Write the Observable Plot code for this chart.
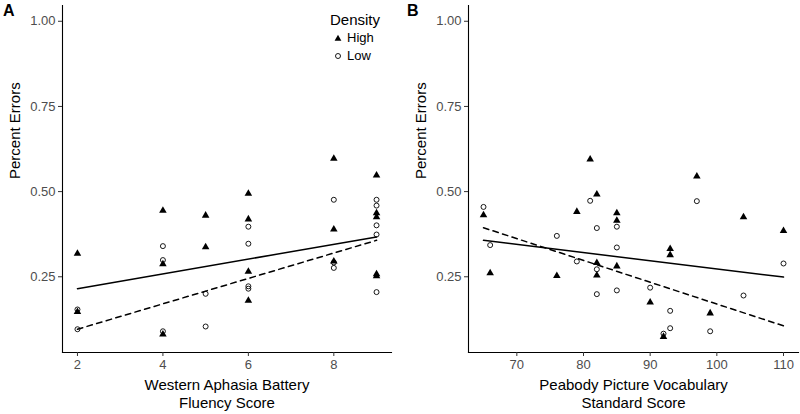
<!DOCTYPE html>
<html>
<head>
<meta charset="utf-8">
<script src="https://cdn.jsdelivr.net/npm/d3@7"></script>
<script src="https://cdn.jsdelivr.net/npm/@observablehq/plot@0.6"></script>
<style>
  html, body { margin: 0; padding: 0; background: #fff; }
  #wrap { position: relative; width: 800px; height: 414px; font-family: "Liberation Sans", Arial, sans-serif; }
  #chart { display: flex; }
  .plab { position: absolute; font-weight: bold; font-size: 16px; color: #000; line-height: 1; }
  #legend { position: absolute; left: 330px; top: 11px; color: #000; }
  #legend .ttl { font-size: 15px; line-height: 18px; }
  #legend .row { display: flex; align-items: center; font-size: 13px; line-height: 18px; }
  #legend svg { margin: 0 5px 0 4px; }
</style>
</head>
<body>
<div id="wrap">
  <div id="chart"></div>
  <div class="plab" style="left:3px;top:3px">A</div>
  <div class="plab" style="left:407px;top:3px">B</div>
  <div id="legend"></div>
</div>
<script>
// ---- data ----
const densities = ["High", "Low"];
const legendTitle = "Density";
const yTitle = "Percent Errors";
const yTicks = [0.25, 0.50, 0.75, 1.00];

// Panel A: Western Aphasia Battery fluency score (one entry per participant)
const wabScore = [2, 2, 4, 4, 4, 5, 5, 6, 6, 6, 6, 8, 8, 8, 9, 9, 9, 9, 9];
const wabHigh  = [0.318, 0.147, 0.444, 0.287, 0.081, 0.430, 0.337, 0.494, 0.419, 0.265, 0.180, 0.597, 0.389, 0.295, 0.548, 0.437, 0.425, 0.258, 0.252];
const wabLow   = [0.154, 0.096, 0.340, 0.299, 0.090, 0.200, 0.104, 0.397, 0.347, 0.222, 0.215, 0.476, 0.292, 0.276, 0.476, 0.459, 0.401, 0.374, 0.205];
const wabTicks = [2, 4, 6, 8];
const wabTitle = "Western Aphasia Battery\nFluency Score";
// fitted lines (x, y) for High and Low
const wabFitX    = [2, 9];
const wabFitHigh = [0.215, 0.367];
const wabFitLow  = [0.096, 0.357];

// Panel B: Peabody Picture Vocabulary standard score
const ppvtScore = [65, 66, 76, 79, 81, 82, 82, 82, 85, 85, 85, 90, 92, 93, 93, 97, 99, 104, 110];
const ppvtHigh  = [0.431, 0.261, 0.253, 0.441, 0.595, 0.492, 0.291, 0.254, 0.437, 0.415, 0.281, 0.175, 0.074, 0.332, 0.314, 0.545, 0.143, 0.425, 0.385];
const ppvtLow   = [0.455, 0.343, 0.370, 0.295, 0.473, 0.393, 0.272, 0.199, 0.397, 0.336, 0.210, 0.218, 0.083, 0.150, 0.099, 0.472, 0.090, 0.195, 0.289];
const ppvtTicks = [70, 80, 90, 100, 110];
const ppvtTitle = "Peabody Picture Vocabulary\nStandard Score";
const ppvtFitX    = [65, 110];
const ppvtFitHigh = [0.357, 0.249];
const ppvtFitLow  = [0.394, 0.106];

// ---- helpers ----
const font = "'Liberation Sans', Arial, sans-serif";
function pts(xs, ys) { return xs.map((x, i) => ({x, y: ys[i]})); }
function padDomain(vals) {
  const lo = d3.min(vals), hi = d3.max(vals), p = (hi - lo) * 0.05;
  return [lo - p, hi + p];
}
const allY = [...wabHigh, ...wabLow, ...ppvtHigh, ...ppvtLow, 1.0];
const yDomain = padDomain([d3.min(allY), 1.0]);

function panel({xs, hi, lo, fitX, fitHi, fitLo, ticks, title, marginLeft, marginRight}) {
  return Plot.plot({
    width: 400,
    height: 414,
    marginLeft, marginRight,
    marginTop: 5,
    marginBottom: 62,
    style: {fontFamily: font, fontSize: "13px", background: "white", overflow: "visible"},
    x: {domain: padDomain(xs)},
    y: {domain: yDomain},
    marks: [
      Plot.frame({anchor: "left", stroke: "#000", strokeWidth: 1.1}),
      Plot.frame({anchor: "bottom", stroke: "#000", strokeWidth: 1.1}),
      Plot.axisY({ticks: yTicks, tickFormat: ".2f", tickSize: 4, tickPadding: 3, label: null,
                  fill: "#4d4d4d", stroke: "#333", fontSize: 13}),
      Plot.axisX({ticks, tickFormat: d => d, tickSize: 4, tickPadding: 3, label: null,
                  fill: "#4d4d4d", stroke: "#333", fontSize: 13}),
      Plot.line(pts(fitX, fitHi), {x: "x", y: "y", stroke: "#000", strokeWidth: 1.5}),
      Plot.line(pts(fitX, fitLo), {x: "x", y: "y", stroke: "#000", strokeWidth: 1.5, strokeDasharray: "5.5,4.5"}),
      Plot.dot(pts(xs, hi), {x: "x", y: "y", symbol: "triangle", fill: "#000", r: 2.8}),
      Plot.dot(pts(xs, lo), {x: "x", y: "y", symbol: "circle", stroke: "#000", fill: "none", r: 2.5, strokeWidth: 0.9}),
      Plot.text([yTitle], {text: d => d, frameAnchor: "left", rotate: -90, dx: -47, fontSize: 15, fill: "#000"}),
      Plot.text([title], {text: d => d, frameAnchor: "bottom", lineAnchor: "top", dy: 25, fontSize: 15, lineHeight: 1.18, fill: "#000"})
    ]
  });
}

const chart = document.getElementById("chart");
chart.append(panel({xs: wabScore, hi: wabHigh, lo: wabLow, fitX: wabFitX, fitHi: wabFitHigh, fitLo: wabFitLow,
  ticks: wabTicks, title: wabTitle, marginLeft: 62, marginRight: 9}));
chart.append(panel({xs: ppvtScore, hi: ppvtHigh, lo: ppvtLow, fitX: ppvtFitX, fitHi: ppvtFitHigh, fitLo: ppvtFitLow,
  ticks: ppvtTicks, title: ppvtTitle, marginLeft: 68, marginRight: 2}));

// legend
const legend = document.getElementById("legend");
const t = document.createElement("div");
t.className = "ttl"; t.textContent = legendTitle; legend.append(t);
densities.forEach(name => {
  const row = document.createElement("div");
  row.className = "row";
  const s = d3.create("svg").attr("width", 8).attr("height", 8);
  if (name === "High") s.append("path").attr("d", "M4,0.8L7.4,6.8H0.6Z").attr("fill", "#000");
  else s.append("circle").attr("cx", 4).attr("cy", 4).attr("r", 2.5).attr("fill", "none").attr("stroke", "#000").attr("stroke-width", 0.9);
  row.append(s.node());
  const l = document.createElement("span"); l.textContent = name; row.append(l);
  legend.append(row);
});
</script>
</body>
</html>
